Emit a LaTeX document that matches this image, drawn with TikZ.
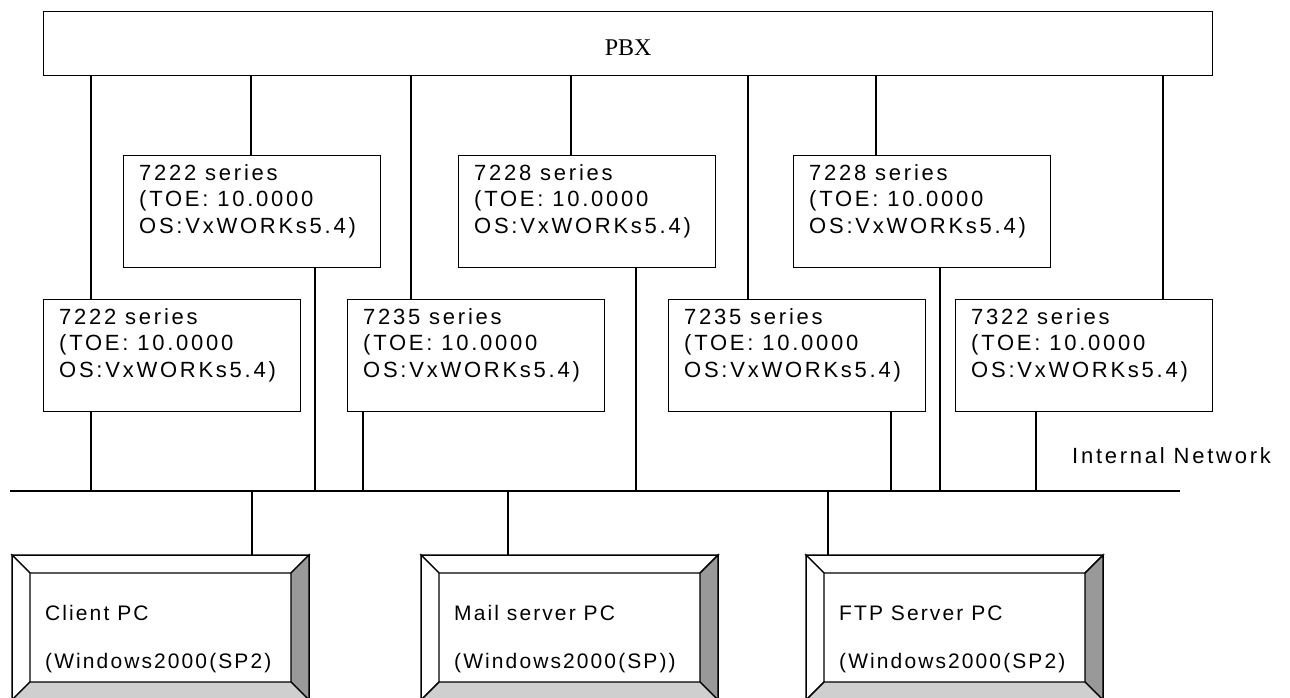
\documentclass[tikz,border=0pt]{standalone}
\usepackage{fontspec}
\setmainfont{Liberation Serif}
\newfontfamily\arialf[LetterSpace=12.5]{Liberation Sans}
\newfontfamily\arialpc[LetterSpace=10]{Liberation Sans}
\usetikzlibrary{calc}
\definecolor{bevdark}{HTML}{999999}
\definecolor{bevlight}{HTML}{CFCFCF}
\newcommand\devicebox[4]{%
  \node[devbox] (#1) at (#2,#3) {};
  \node[txt] (#1-l1) at ([shift={(16,25)}]#1.north west) {#4};
  \node[txt] (#1-l2) at ([shift={(16,51.7)}]#1.north west) {(TOE: 10.0000};
  \node[txt] (#1-l3) at ([shift={(16,78.3)}]#1.north west) {OS:VxWORKs5.4)};
}
\newcommand\pcbox[5]{%
  \begin{scope}[shift={(#2,#3)}]
    \filldraw[lw, fill=white] (0,0) -- (297,0) -- (279,18) -- (18,18) -- cycle;
    \filldraw[lw, fill=white] (0,0) -- (18,18) -- (18,127) -- (0,145) -- cycle;
    \filldraw[lw, fill=bevdark] (297,0) -- (297,145) -- (279,127) -- (279,18) -- cycle;
    \filldraw[lw, fill=bevlight] (0,145) -- (297,145) -- (279,127) -- (18,127) -- cycle;
    \node[pcframe] (#1) at (0,0) {};
    \node[pctxt] (#1-l1) at (33,65) {#4};
    \node[pctxt] (#1-l2) at (33,113) {#5};
  \end{scope}
}
\begin{document}
\begin{tikzpicture}[x=1pt,y=-1pt,
  lw/.style={line width=1.4pt},
  devbox/.style={draw, line width=1.4pt, minimum width=257pt, minimum height=112pt, inner sep=0pt, anchor=north west},
  pcframe/.style={draw, line width=1.4pt, minimum width=297pt, minimum height=145pt, inner sep=0pt, anchor=north west},
  txt/.style={font=\arialf\fontsize{22}{26}\selectfont, inner sep=0pt, anchor=base west},
  pctxt/.style={font=\arialpc\fontsize{21}{25}\selectfont, inner sep=0pt, anchor=base west},
]
\useasboundingbox (0,0) rectangle (1290,698);
% PBX
\node[draw, line width=1.4pt, minimum width=1169pt, minimum height=64pt, inner sep=0pt, anchor=north west] (pbx) at (43,11) {};
\node[font=\fontsize{24}{28}\selectfont, inner sep=0pt, anchor=base] (pbxlabel) at (pbx.center |- 0,56) {PBX};
% devices
\devicebox{b1}{123}{155}{7222 series}
\devicebox{b2}{458}{155}{7228 series}
\devicebox{b3}{793}{155}{7228 series}
\devicebox{b4}{43}{299}{7222 series}
\devicebox{b5}{347}{299}{7235 series}
\devicebox{b6}{668}{299}{7235 series}
\devicebox{b7}{955}{299}{7322 series}
% network
\coordinate (netW) at (10,491);
\coordinate (netE) at (1180,491);
\draw[lw] (netW) -- (netE);
\node[txt] (netlabel) at (1072,463) {Internal Network};
% PBX drops
\foreach \b/\x in {b4/91, b1/251, b5/411, b2/571, b6/748, b3/876, b7/1163}
  \draw[lw] (pbx.south -| \x,0) -- (\b.north -| \x,0);
% network drops
\foreach \b/\x in {b4/91, b1/315, b5/363, b2/636, b6/891, b3/940, b7/1036}
  \draw[lw] (\b.south -| \x,0) -- (netW -| \x,0);
% PCs
\pcbox{pc1}{12}{555}{Client PC}{(Windows2000(SP2)}
\pcbox{pc2}{421}{555}{Mail server PC}{(Windows2000(SP))}
\pcbox{pc3}{806}{555}{FTP Server PC}{(Windows2000(SP2)}
\foreach \p/\x in {pc1/252, pc2/508, pc3/828}
  \draw[lw] (netW -| \x,0) -- (\p.north -| \x,0);
\end{tikzpicture}
\end{document}
